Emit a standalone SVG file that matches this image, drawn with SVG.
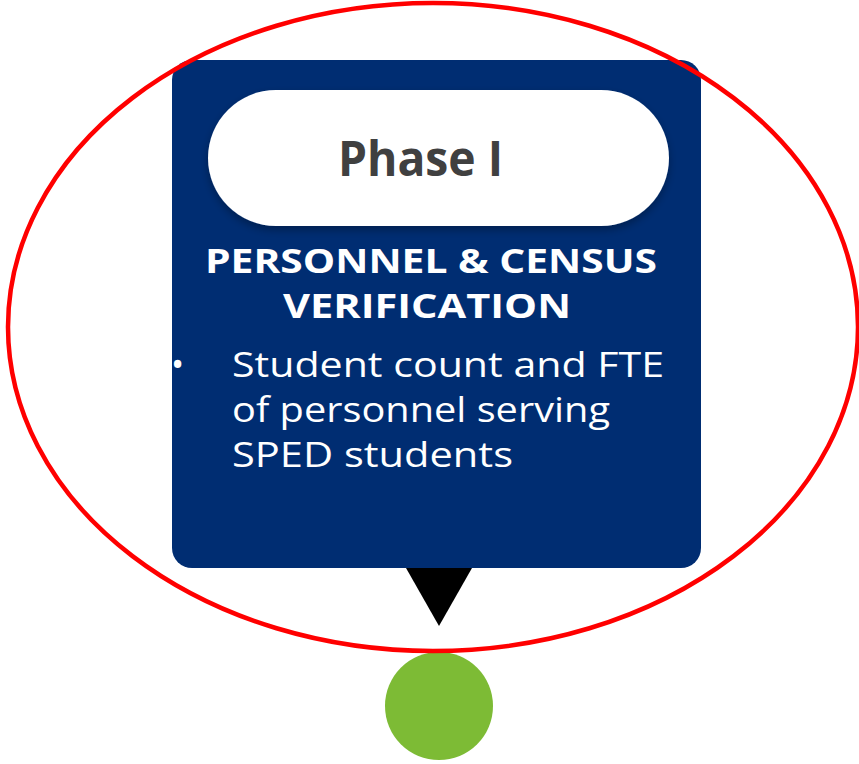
<svg xmlns="http://www.w3.org/2000/svg" width="859" height="764" viewBox="0 0 859 764">
<style>
.hd{font-family:"Open Sans","DejaVu Sans",sans-serif;font-weight:700;fill:#fff;font-size:34px}
.bd{font-family:"Open Sans","DejaVu Sans",sans-serif;font-weight:400;fill:#fff;font-size:35px}
.ph{font-family:"Open Sans","DejaVu Sans",sans-serif;font-weight:700;fill:#404040;font-size:48px}
</style>
<defs>
<filter id="sh" x="-10%" y="-20%" width="120%" height="150%">
<feDropShadow dx="0" dy="4" stdDeviation="4" flood-color="#000" flood-opacity="0.3"/>
</filter>
</defs>
<rect width="859" height="764" fill="#fff"/>
<g id="phase-card">
<rect x="172" y="60" width="529" height="508" rx="20" fill="#002D72"/>
<rect x="208" y="90" width="461" height="136" rx="68" fill="#fff" filter="url(#sh)"/>
<text class="ph" x="338" y="176" textLength="165" lengthAdjust="spacingAndGlyphs">Phase I</text>
<text class="hd" x="205" y="273" textLength="452" lengthAdjust="spacingAndGlyphs">PERSONNEL &amp; CENSUS</text>
<text class="hd" x="283" y="318" textLength="288" lengthAdjust="spacingAndGlyphs">VERIFICATION</text>
<text class="bd" x="171" y="377">•</text>
<text class="bd" x="232" y="377" textLength="432" lengthAdjust="spacingAndGlyphs">Student count and FTE</text>
<text class="bd" x="232" y="422" textLength="378" lengthAdjust="spacingAndGlyphs">of personnel serving</text>
<text class="bd" x="232" y="467" textLength="281" lengthAdjust="spacingAndGlyphs">SPED students</text>
</g>
<g id="connectors">
<polygon points="406,568 472,568 439,626" fill="#000"/>
</g>
<g id="dot">
<circle cx="439" cy="706" r="54" fill="#7DBB35"/>
</g>
<g id="highlight">
<ellipse cx="433" cy="327" rx="425" ry="324" fill="none" stroke="#FF0000" stroke-width="4.5"/>
</g>
</svg>
